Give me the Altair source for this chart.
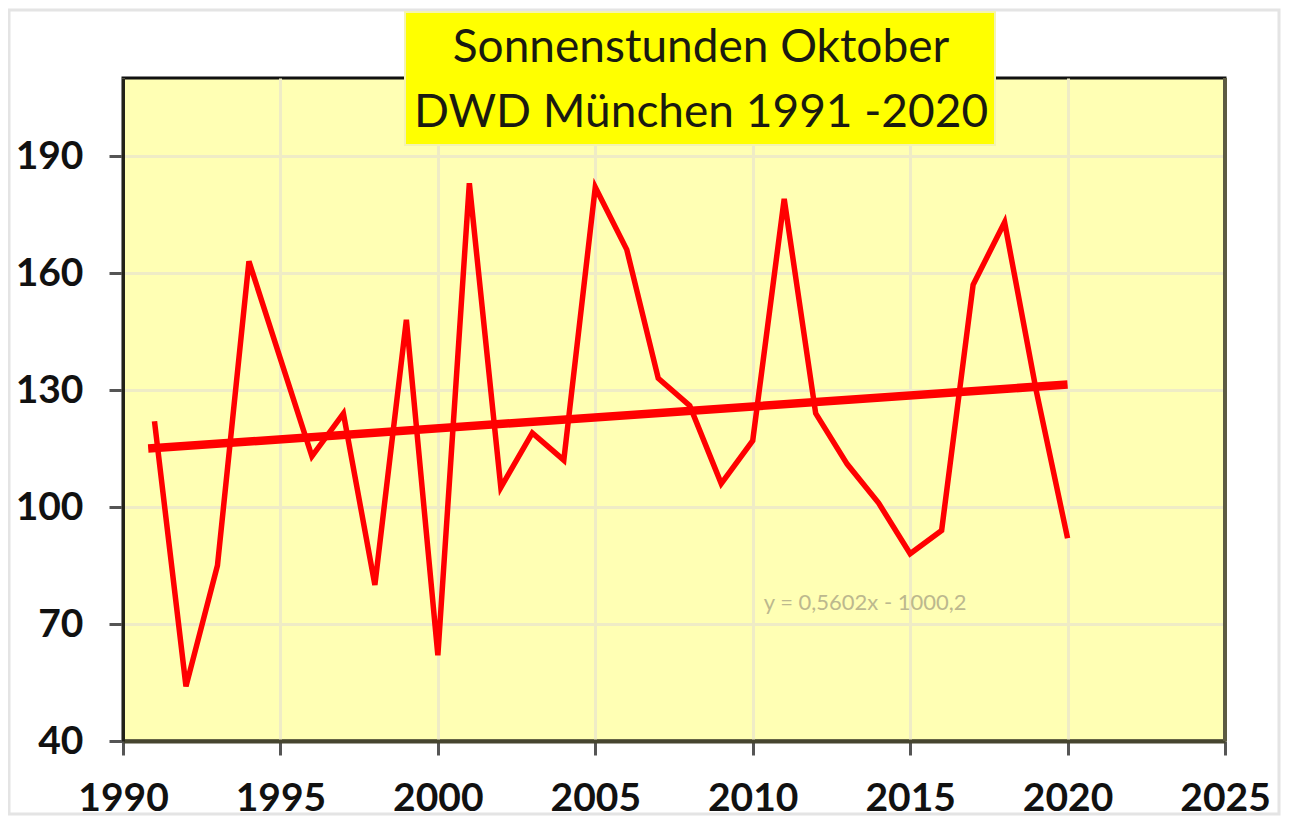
import altair as alt
import pandas as pd

years = list(range(1991, 2021))
sun_hours = [122, 54, 85, 163, 138, 113, 124, 80, 148, 62,
             183, 105, 119, 112, 182, 166, 133, 126, 106, 117,
             179, 124, 111, 101, 88, 94, 157, 173, 130, 92]
trend_years = [1990.8, 2020]
trend_values = [115.0, 131.4]
title_lines = ["Sonnenstunden  Oktober", "DWD München 1991 -2020"]
equation = "y = 0,5602x - 1000,2"
x_ticks = [1990, 1995, 2000, 2005, 2010, 2015, 2020, 2025]
y_ticks = [40, 70, 100, 130, 160, 190]

W, H = 1102, 663

df = pd.DataFrame({"Jahr": years, "Stunden": sun_hours})
df_trend = pd.DataFrame({"Jahr": trend_years, "Stunden": trend_values})

xs = alt.Scale(domain=[1990, 2025], nice=False, zero=False)
ys = alt.Scale(domain=[40, 210], nice=False, zero=False)

x_axis = alt.Axis(values=x_ticks, format="d", title=None, labelFont="Lato",
                  labelFontWeight="bold", labelFontSize=39, labelColor="#111111",
                  labelPadding=24, tickSize=14, tickWidth=3, tickColor="#555555",
                  domainColor="#46452f", domainWidth=4, grid=True,
                  gridColor="#efecc6", gridWidth=3, labelFlush=False)
y_axis = alt.Axis(values=y_ticks, title=None, labelFont="Lato",
                  labelFontWeight="bold", labelFontSize=39, labelColor="#111111",
                  labelPadding=26, tickSize=14, tickWidth=3, tickColor="#555555",
                  domainColor="#222218", domainWidth=3, grid=True,
                  gridColor="#efecc6", gridWidth=3)

border = alt.Chart(pd.DataFrame({"a": [0]})).mark_rect(
    fill=None, stroke="#e4e4e4", strokeWidth=3
).encode(x=alt.value(-114), x2=alt.value(W + 54), y=alt.value(-68), y2=alt.value(H + 73))

data_line = alt.Chart(df).mark_line(color="#ff0000", strokeWidth=5.5, strokeJoin="miter").encode(
    x=alt.X("Jahr:Q", scale=xs, axis=x_axis),
    y=alt.Y("Stunden:Q", scale=ys, axis=y_axis),
)

trend_line = alt.Chart(df_trend).mark_line(color="#ff0000", strokeWidth=8.5, strokeCap="butt").encode(
    x=alt.X("Jahr:Q", scale=xs),
    y=alt.Y("Stunden:Q", scale=ys),
)

right_border = alt.Chart(pd.DataFrame({"a": [0]})).mark_rule(color="#5c5b42", strokeWidth=4).encode(
    x=alt.value(W), y=alt.value(0), y2=alt.value(H)
)

eq_text = alt.Chart(pd.DataFrame({"t": [equation], "Jahr": [2010.35], "Stunden": [75.4]})).mark_text(
    align="left", baseline="middle", font="Lato", fontSize=22, color="#bcb88e"
).encode(x=alt.X("Jahr:Q", scale=xs), y=alt.Y("Stunden:Q", scale=ys), text="t:N")

title_box = alt.Chart(pd.DataFrame({"a": [0]})).mark_rect(
    fill="#ffff00", stroke="#f4f4b0", strokeWidth=2
).encode(x=alt.value(282), x2=alt.value(872), y=alt.value(-66), y2=alt.value(67))

title1 = alt.Chart(pd.DataFrame({"t": [title_lines[0]]})).mark_text(
    align="center", baseline="middle", font="Lato", fontSize=46, color="#1a1a10"
).encode(x=alt.value(578), y=alt.value(-30), text="t:N")

title2 = alt.Chart(pd.DataFrame({"t": [title_lines[1]]})).mark_text(
    align="center", baseline="middle", font="Lato", fontSize=46, color="#1a1a10"
).encode(x=alt.value(578), y=alt.value(35), text="t:N")

chart = alt.layer(
    border, data_line, trend_line, right_border, eq_text, title_box, title1, title2
).properties(
    width=W, height=H,
    autosize=alt.AutoSizeParams(type="none"),
    padding={"left": 115, "top": 70, "right": 57, "bottom": 76},
    background="#ffffff",
).configure_view(
    fill="#ffffb4", stroke="#111111", strokeWidth=3
)

chart.save("out.html", embed_options={"renderer": "svg", "actions": False})
